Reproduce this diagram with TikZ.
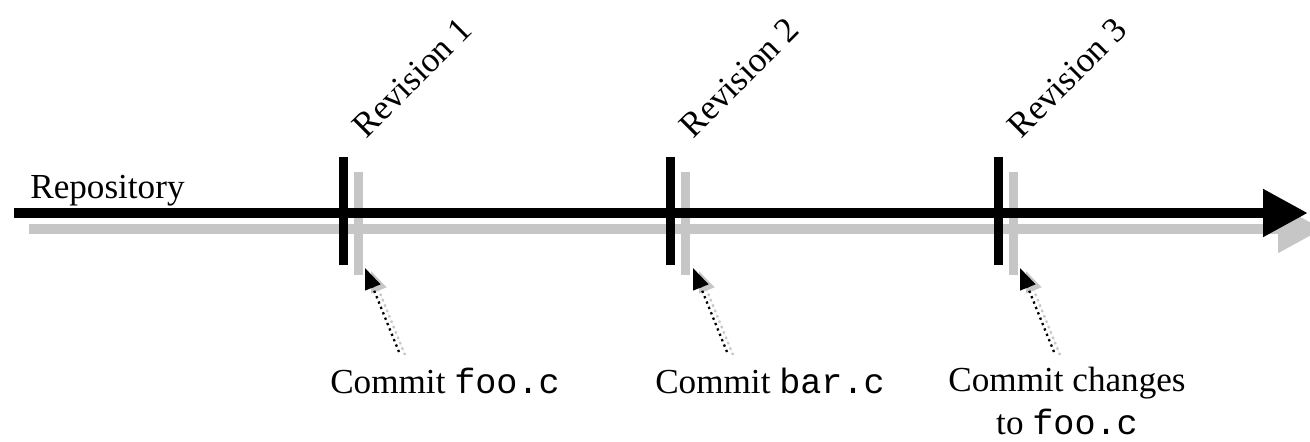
\documentclass[tikz,border=0pt]{standalone}
\usepackage{fontspec}
\setmainfont{Liberation Serif}
\setmonofont{Liberation Mono}
\usetikzlibrary{arrows.meta,positioning,calc}
\definecolor{shadowgray}{RGB}{198,198,198}

\begin{document}
\begin{tikzpicture}[x=0.02cm,y=-0.02cm,
    every node/.style={font=\fontsize{20}{24}\selectfont,inner sep=0pt},
    timeline/.style={line width=0.22cm,-{Triangle[length=0.9cm,width=0.9cm]}},
    tickmark/.style={line width=0.18cm},
    shade/.style={draw=shadowgray,fill=shadowgray},
    revlabel/.style={rotate=45,anchor=south west},
    commitarrow/.style={dotted,line width=1.3pt,
      -{Triangle[length=0.42cm,width=0.32cm]}}]
  \useasboundingbox (0,0) rectangle (1310,442);

  % time line
  \coordinate (tl start) at (14,213);
  \coordinate (tl end) at (1308,213);
  \node[anchor=base west] (repo) at (30,198) {Repository};

  % shadows first
  \draw[shade,timeline] ($(tl start)+(15,16)$) -- ($(tl end)+(15,16)$);
  \foreach \i/\x in {1/343,2/670,3/998}{
    \draw[shade,tickmark] (\x+15,172) -- (\x+15,275);
  }

  \draw[timeline] (tl start) -- (tl end);

  % revisions
  \foreach \i/\x in {1/343,2/670,3/998}{
    \coordinate (r\i top) at (\x,157);
    \coordinate (r\i bot) at (\x,265);
    \draw[tickmark] (r\i top) -- (r\i bot);
    \node[revlabel] (rev\i) at (\x+24,140) {Revision \i};
  }

  % commits
  \node (c1) at (445,381) {Commit \texttt{foo.c}};
  \node (c2) at (770,381) {Commit \texttt{bar.c}};
  \node[align=center] (c3) at (1067,401) {Commit changes\\to \texttt{foo.c}};

  \foreach \i/\x in {1/365,2/693,3/1020}{
    \coordinate (c\i tip) at (\x,268);
    \coordinate (c\i tail) at (\x+34,352);
    \draw[shade,commitarrow] ($(c\i tail)+(6,3)$) -- ($(c\i tip)+(6,3)$);
    \draw[commitarrow] (c\i tail) -- (c\i tip);
  }
\end{tikzpicture}
\end{document}
